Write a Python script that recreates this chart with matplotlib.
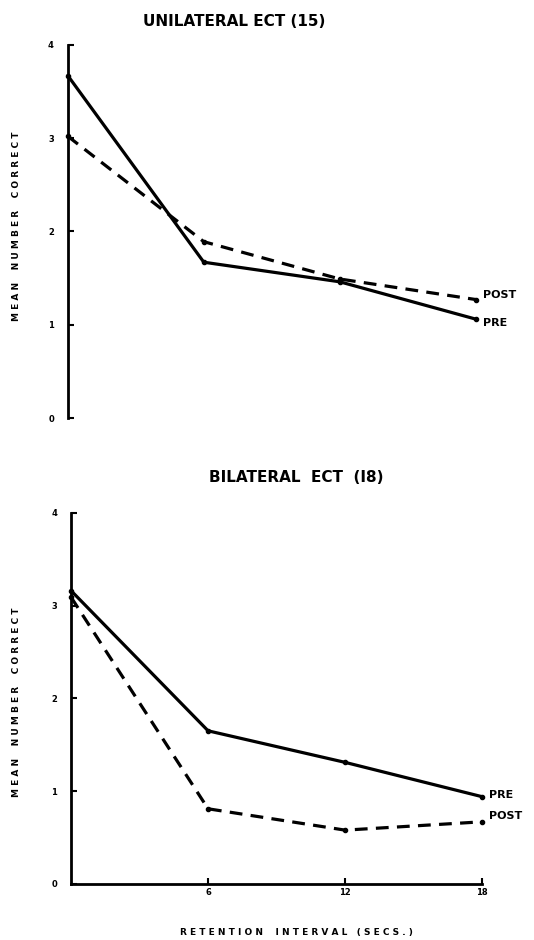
import matplotlib.pyplot as plt

# retention interval (secs) and mean number correct
interval = [0, 6, 12, 18]
uni_pre = [3.67, 1.67, 1.46, 1.06]
uni_post = [3.02, 1.89, 1.49, 1.27]
bi_pre = [3.16, 1.65, 1.31, 0.94]
bi_post = [3.09, 0.81, 0.58, 0.67]
y_ticks = [0, 1, 2, 3, 4]
x_ticks = [6, 12, 18]

plt.rcParams['font.family'] = ['DejaVu Sans']
plt.rcParams['font.weight'] = 'bold'

fig = plt.figure(figsize=(5.34, 9.4), dpi=100)
ax1 = fig.add_axes([0.127, 0.5553, 0.764, 0.397])
ax2 = fig.add_axes([0.133, 0.0596, 0.770, 0.395])


def style(ax, bottom):
    ax.set_xlim(0, 18)
    ax.set_ylim(0, 4)
    for s in ['top', 'right']:
        ax.spines[s].set_visible(False)
    ax.spines['left'].set_linewidth(2)
    ax.spines['bottom'].set_linewidth(2)
    ax.spines['bottom'].set_visible(bottom)
    ax.set_yticks(y_ticks)
    ax.set_yticklabels([str(t) for t in y_ticks], fontsize=6, fontweight='bold')
    ax.tick_params(axis='y', direction='in', length=4, width=1.5, pad=10)
    if bottom:
        ax.set_xticks(x_ticks)
        ax.set_xticklabels([str(t) for t in x_ticks], fontsize=6, fontweight='bold')
        ax.tick_params(axis='x', direction='in', length=4, width=1.5, pad=3)
    else:
        ax.set_xticks([])


def draw(ax, pre, post):
    ax.plot(interval, pre, color='black', lw=2.3, marker='o', ms=3,
            solid_capstyle='round', clip_on=False)
    ax.plot(interval, post, color='black', lw=2.3, marker='o', ms=3,
            dashes=(4, 2.6), clip_on=False)


style(ax1, False)
draw(ax1, uni_pre, uni_post)
ax1.annotate('POST', (18, uni_post[-1]), xytext=(5, 3), textcoords='offset points',
             fontsize=8, fontweight='bold', va='center', annotation_clip=False)
ax1.annotate('PRE', (18, uni_pre[-1]), xytext=(5, -3), textcoords='offset points',
             fontsize=8, fontweight='bold', va='center', annotation_clip=False)

style(ax2, True)
draw(ax2, bi_pre, bi_post)
ax2.annotate('PRE', (18, bi_pre[-1]), xytext=(5, 1), textcoords='offset points',
             fontsize=8, fontweight='bold', va='center', annotation_clip=False)
ax2.annotate('POST', (18, bi_post[-1]), xytext=(5, 4), textcoords='offset points',
             fontsize=8, fontweight='bold', va='center', annotation_clip=False)

ylab = 'M E A N    N U M B E R    C O R R E C T'
fig.text(17 / 534, 1 - 226 / 940, ylab, rotation=90, ha='center', va='center',
         fontsize=6.5, fontweight='bold')
fig.text(17 / 534, 1 - 702 / 940, ylab, rotation=90, ha='center', va='center',
         fontsize=6.5, fontweight='bold')
fig.text(296 / 534, 1 - 932 / 940,
         'R E T E N T I O N    I N T E R V A L   ( S E C S . )',
         ha='center', va='center', fontsize=6.5, fontweight='bold')

fig.text(0.438, 1 - 21 / 940, 'UNILATERAL ECT (15)', ha='center', va='center',
         fontsize=11, fontweight='bold')
fig.text(0.554, 1 - 478 / 940, 'BILATERAL  ECT  (I8)', ha='center', va='center',
         fontsize=11, fontweight='bold')

fig.savefig('out.png', dpi=100)
